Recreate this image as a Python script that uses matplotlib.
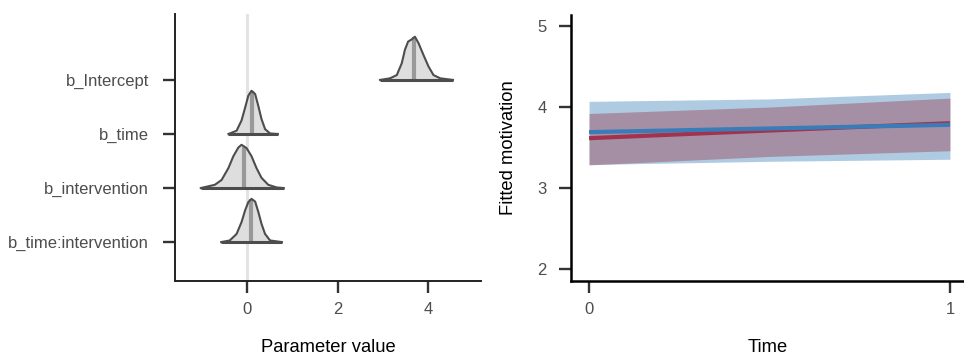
import matplotlib
matplotlib.use("Agg")
import matplotlib.pyplot as plt
import numpy as np

plt.rcParams['font.family'] = ['Liberation Sans', 'DejaVu Sans']

# ---- left panel: posterior ridges ----
params = ["b_time:intervention", "b_intervention", "b_time", "b_Intercept"]

# density outlines: x positions and heights (row units, peak ~0.8)
ridge_x = [
    [-0.38, -0.23, -0.12, -0.04, 0.03, 0.10, 0.18, 0.25, 0.32, 0.40, 0.51],
    [-0.71, -0.56, -0.41, -0.30, -0.19, -0.12, -0.01, 0.10, 0.21, 0.32, 0.47, 0.66],
    [-0.23, -0.12, -0.04, 0.03, 0.10, 0.18, 0.25, 0.32, 0.40, 0.51],
    [3.16, 3.31, 3.42, 3.49, 3.56, 3.64, 3.71, 3.79, 3.90, 4.01, 4.12, 4.27],
]
ridge_h = [
    [0.03, 0.15, 0.37, 0.59, 0.74, 0.80, 0.75, 0.56, 0.34, 0.15, 0.03],
    [0.06, 0.15, 0.37, 0.59, 0.75, 0.80, 0.74, 0.59, 0.37, 0.19, 0.06, 0.01],
    [0.06, 0.25, 0.49, 0.71, 0.80, 0.74, 0.52, 0.28, 0.09, 0.01],
    [0.03, 0.09, 0.31, 0.56, 0.71, 0.75, 0.80, 0.68, 0.46, 0.25, 0.09, 0.03],
]
ridge_lo = [-0.57, -1.02, -0.41, 2.94]
ridge_hi = [0.77, 0.81, 0.68, 4.55]
ridge_med = [0.09, -0.06, 0.11, 3.70]

# ---- right panel: fitted lines and ribbons ----
time = [0, 0.5, 1]
blue_fit = [3.69, 3.735, 3.78]
blue_lo = [3.29, 3.33, 3.355]
blue_hi = [4.07, 4.10, 4.18]
red_fit = [3.615, 3.71, 3.80]
red_lo = [3.285, 3.39, 3.46]
red_hi = [3.92, 4.00, 4.11]

W, H = 964, 360
fig = plt.figure(figsize=(W / 100, H / 100), dpi=100)

ax1 = fig.add_axes([175 / W, (H - 281) / H, 306 / W, 267 / H])
ax2 = fig.add_axes([571 / W, (H - 281) / H, 393 / W, 266 / H])

# reference line at zero
ax1.axvline(0, color="#e3e3e3", lw=2.2, zorder=0)

for i in range(len(params)):
    y0 = i + 1
    z = 2 + (4 - i)
    xs = np.concatenate([[ridge_lo[i]], ridge_x[i], [ridge_hi[i]]])
    hs = np.concatenate([[0], ridge_h[i], [0]])
    ax1.fill_between(xs, y0, y0 + hs, color="#dedede", lw=0, zorder=z)
    mh = np.interp(ridge_med[i], xs, hs)
    ax1.plot([ridge_med[i], ridge_med[i]], [y0, y0 + mh], color="#999999",
             lw=3.0, solid_capstyle="butt", zorder=z)
    ax1.plot(xs, y0 + hs, color="#4d4d4d", lw=1.5, solid_joinstyle="round",
             zorder=z)
    ax1.plot([ridge_lo[i], ridge_hi[i]], [y0, y0], color="#4d4d4d", lw=2.2,
             solid_capstyle="butt", zorder=z)

ax1.set_xlim(-1.59, 5.17)
ax1.set_ylim(0.28, 5.22)
ax1.set_yticks(range(1, len(params) + 1))
ax1.set_yticklabels(params)
ax1.set_xticks([0, 2, 4])
ax1.set_xlabel("Parameter value", fontsize=13.2)
ax1.xaxis.set_label_coords(0.5, -0.219)

# right panel
ax2.fill_between(time, blue_lo, blue_hi, color="#377eb8", alpha=0.4, lw=0)
ax2.fill_between(time, red_lo, red_hi, color="#98354b", alpha=0.4, lw=0)
ax2.plot(time, red_fit, color="#a3324f", lw=3.0, solid_capstyle="butt")
ax2.plot(time, blue_fit, color="#3a7cb8", lw=3.0, solid_capstyle="butt")
ax2.set_xlim(-0.05, 1.039)
ax2.set_ylim(1.852, 5.136)
ax2.set_xticks([0, 1])
ax2.set_yticks([2, 3, 4, 5])
ax2.set_xlabel("Time", fontsize=13.2)
ax2.xaxis.set_label_coords(0.5, -0.219)
ax2.set_ylabel("Fitted motivation", fontsize=13.2)
ax2.yaxis.set_label_coords(-0.137, 0.5)

for ax, sc, sw in [(ax1, "#222222", 1.4), (ax2, "black", 1.8)]:
    for s in ["top", "right"]:
        ax.spines[s].set_visible(False)
    for s in ["left", "bottom"]:
        ax.spines[s].set_color(sc)
        ax.spines[s].set_linewidth(sw)
    ax.tick_params(direction="out", length=8.6, width=1.7, color="#333333",
                   labelcolor="#4d4d4d", labelsize=12)
    ax.tick_params(axis="x", pad=6.5)
ax1.tick_params(axis="y", pad=10)
ax2.tick_params(axis="y", pad=8.8)

fig.savefig("out.png", dpi=100)
